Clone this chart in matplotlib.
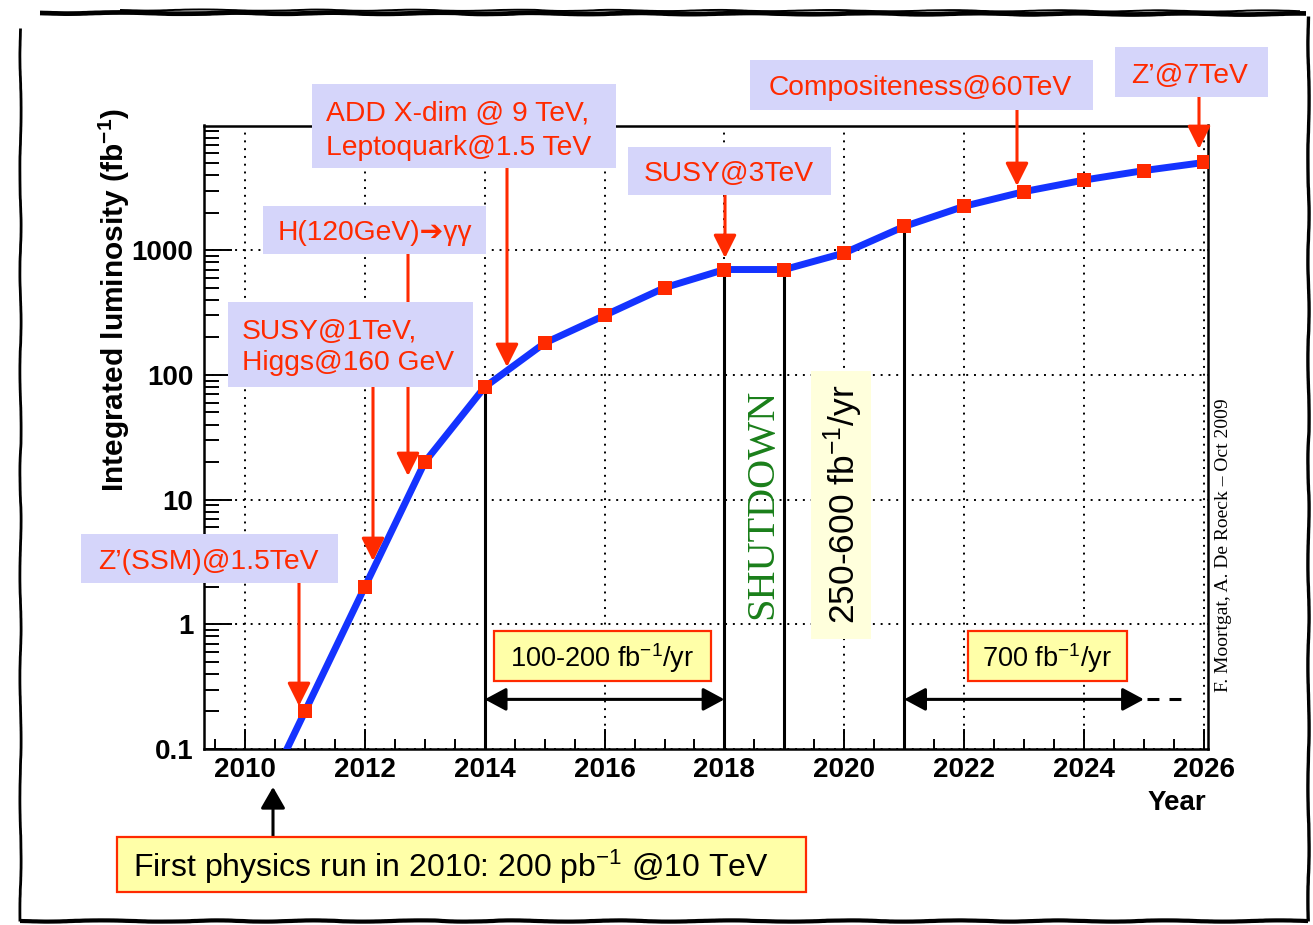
import numpy as np
import matplotlib
matplotlib.use("Agg")
import matplotlib.pyplot as plt
import matplotlib.ticker as mticker
from matplotlib.patches import Rectangle, FancyArrowPatch, ArrowStyle
from matplotlib.lines import Line2D

# ---------------- data ----------------
years = [2010, 2011, 2012, 2013, 2014, 2015, 2016, 2017, 2018,
         2019, 2020, 2021, 2022, 2023, 2024, 2025, 2026]
lumi_fb = [0.02, 0.2, 2, 20, 80, 180, 300, 500, 700,
           700, 950, 1550, 2250, 2950, 3650, 4350, 5050]

x_ticks = [2010, 2012, 2014, 2016, 2018, 2020, 2022, 2024, 2026]
x_tick_labels = [str(v) for v in x_ticks]
y_ticks = [0.1, 1, 10, 100, 1000]
y_tick_labels = ["0.1", "1", "10", "100", "1000"]

marked_years = [2014, 2018, 2019, 2021]
rate_periods = [(2014, 2018), (2021, 2025)]
rate_level = 0.25
extrapolation = (2025.05, 2025.75)

# ---------------- style ----------------
plt.rcParams['font.family'] = ['Liberation Sans', 'DejaVu Sans']
plt.rcParams['mathtext.fontset'] = 'custom'
plt.rcParams['mathtext.rm'] = 'Liberation Sans'
plt.rcParams['mathtext.it'] = 'Liberation Sans:italic'
plt.rcParams['mathtext.bf'] = 'Liberation Sans:bold'

RED = '#ff2a00'
BLUE = '#1433ff'
LAV = '#d5d5fa'
YEL = '#ffffa8'
PALE = '#ffffdc'
GREEN = '#1a7f1a'

W, H = 1313, 925
fig = plt.figure(figsize=(W / 100, H / 100), dpi=100)


def fx(px):
    return px / W


def fy(py):
    return 1 - py / H


ax = fig.add_axes([fx(204.3), fy(749), (1208 - 204.3) / W, (749 - 125.5) / H])
ax.set_yscale('log')
ax.set_xlim(2009.32, 2026.07)
ax.set_ylim(0.1, 10000)

# grid
ax.grid(True, which='major', linestyle=(0, (1, 3)), linewidth=1.4, color='black')

# vertical period lines
ax.vlines(marked_years, 0.1, [lumi_fb[years.index(y)] for y in marked_years],
          color='black', lw=2.2, zorder=2.5)

# curve + markers
ax.plot(years, lumi_fb, color=BLUE, lw=5, zorder=3)
ax.plot(years, lumi_fb, ls='none', marker='s', ms=9.5, mfc=RED, mec=RED,
        mew=0, zorder=4)

# double arrows
for a, b in rate_periods:
    ax.annotate('', xy=(a, rate_level), xytext=(b, rate_level),
                arrowprops=dict(arrowstyle=ArrowStyle('<|-|>', head_length=13, head_width=7),
                                mutation_scale=1, lw=2.2, color='black',
                                shrinkA=0, shrinkB=0), zorder=5)
ax.plot(extrapolation, [rate_level, rate_level], color='black', lw=2.2,
        ls=(0, (3.9, 3.3)), zorder=5)

# ticks
ax.set_xticks(x_ticks, x_tick_labels, fontsize=20, fontweight='bold')
ax.xaxis.set_minor_locator(mticker.MultipleLocator(0.5))
ax.set_yticks(y_ticks, y_tick_labels, fontsize=20, fontweight='bold')
ax.yaxis.set_minor_locator(mticker.LogLocator(base=10, subs=np.arange(2, 10), numticks=30))
ax.yaxis.set_minor_formatter(mticker.NullFormatter())
ax.tick_params(axis='x', which='major', direction='in', length=14.5, width=1.4, pad=5.5, top=False)
ax.tick_params(axis='x', which='minor', direction='in', length=7, width=1.4, top=False)
ax.tick_params(axis='y', which='major', direction='in', length=20, width=1.4, pad=8, right=False)
ax.tick_params(axis='y', which='minor', direction='in', length=11, width=1.4, right=False)
for s in ax.spines.values():
    s.set_linewidth(1.8)

ax.set_xlabel('Year', fontsize=20, fontweight='bold', loc='right')
ax.xaxis.set_label_coords(fx(1206), fy(790), transform=fig.transFigure)
ax.set_ylabel(r'Integrated luminosity (fb$^{\mathbf{-1}}$)', fontsize=21.5, fontweight='bold')
ax.yaxis.set_label_coords(fx(132), fy(300), transform=fig.transFigure)


# ---------------- annotations ----------------
def box(x0, y0, x1, y1, fc, ec=None, lw=0.0):
    r = Rectangle((fx(x0), fy(y1)), (x1 - x0) / W, (y1 - y0) / H,
                  transform=fig.transFigure, facecolor=fc,
                  edgecolor=ec if ec else fc, lw=lw, zorder=6)
    fig.add_artist(r)


def arrow(x, y0, y1, color, hl=14, hw=7):
    p = FancyArrowPatch((fx(x), fy(y0)), (fx(x), fy(y1)),
                        transform=fig.transFigure,
                        arrowstyle=ArrowStyle('-|>', head_length=hl, head_width=hw),
                        mutation_scale=1, lw=2.2, color=color,
                        shrinkA=0, shrinkB=0, zorder=5.5)
    fig.add_artist(p)


def label(x, y, s, color, size, ha='center', va='baseline', **kw):
    fig.text(fx(x), fy(y), s, color=color, fontsize=size, ha=ha, va=va,
             zorder=8, **kw)


# lavender physics-reach boxes: (text, box, text pos, ha, line spacing, arrow)
reach = [
    ("Z’(SSM)@1.5TeV", (81, 534, 338, 583), (208, 569), 'center', 1.2, (299, 583, 706)),
    ("SUSY@1TeV,\nHiggs@160 GeV", (228, 302, 473, 387), (242, 370), 'left', 1.24, (373, 387, 561)),
    ("H(120GeV)➔γγ", (263, 206, 486, 254), (375, 240), 'center', 1.2, (408, 254, 476)),
    ("ADD X-dim @ 9 TeV,\nLeptoquark@1.5 TeV", (312, 84, 616, 168), (326, 155), 'left', 1.4, (507, 168, 367)),
    ("SUSY@3TeV", (628, 147, 831, 195), (729, 181), 'center', 1.2, (725, 195, 258)),
    ("Compositeness@60TeV", (750, 60, 1093, 110), (920, 95), 'center', 1.2, (1017, 110, 186)),
    ("Z’@7TeV", (1115, 47, 1268, 97), (1190, 83), 'center', 1.2, (1199, 97, 149)),
]
for txt, (x0, y0, x1, y1), (tx, ty), ha, lsp, (axp, ay0, ay1) in reach:
    box(x0, y0, x1, y1, LAV)
    label(tx, ty, txt, RED, 20.3, ha=ha, linespacing=lsp)
    arrow(axp, ay0, ay1, RED)

# yellow rate boxes
box(494, 631, 711, 681, YEL, RED, 1.6)
label(602, 667, r'100-200 fb$^{-1}$/yr', 'black', 19.5)
box(968, 631, 1127, 681, YEL, RED, 1.6)
label(1047, 667, r'700 fb$^{-1}$/yr', 'black', 19.5)

box(811, 371, 871, 639, PALE)
label(843, 504, r'250-600 fb$^{-1}$/yr', 'black', 25.5, va='center', rotation=90)

label(763, 504, 'SHUTDOWN', GREEN, 29, va='center', rotation=90,
      family=['Liberation Serif', 'DejaVu Serif'])
label(1224, 545, 'F. Moortgat, A. De Roeck – Oct 2009', 'black', 14, va='center',
      rotation=90, family=['Liberation Serif', 'DejaVu Serif'])

# first physics run box
box(117, 837, 806, 892, YEL, RED, 1.6)
label(133, 877, r'First physics run in 2010: 200 pb$^{-1}$ @10 TeV', 'black', 23, ha='left')
arrow(273, 837, 787, 'black', hl=13, hw=7.5)

# sketchy picture frame
frame = [
    ((40, 13), (1306, 14), 3.4),
    ((120, 10), (1300, 11), 1.4),
    ((20, 28), (20, 921), 2.0),
    ((1308, 16), (1308, 921), 2.4),
    ((20, 921), (1308, 921), 3.0),
]
for (xa, ya), (xb, yb), lw in frame:
    ln = Line2D([fx(xa), fx(xb)], [fy(ya), fy(yb)], transform=fig.transFigure,
                color='black', lw=lw, solid_capstyle='butt', zorder=9)
    ln.set_sketch_params(scale=0.6, length=150, randomness=4)
    fig.add_artist(ln)

fig.savefig('out.png', dpi=100)
